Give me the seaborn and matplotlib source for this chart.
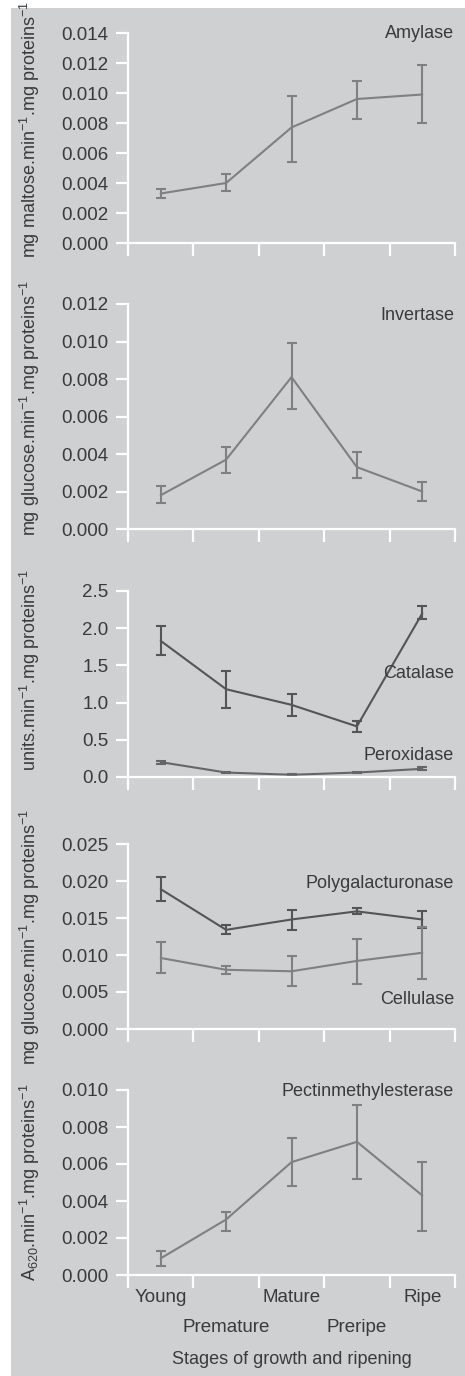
import numpy as np
import matplotlib
matplotlib.use("Agg")
import matplotlib.pyplot as plt
import seaborn as sns
from matplotlib.patches import Rectangle

# stages (points sit between the tick marks)
stages = ["Young", "Premature", "Mature", "Preripe", "Ripe"]
xpos = np.array([0.5, 1.5, 2.5, 3.5, 4.5])

# values: mean, lower bar end, upper bar end
amylase = [0.0033, 0.0040, 0.0077, 0.0096, 0.0099]
amylase_lo = [0.0030, 0.0035, 0.0054, 0.0083, 0.0080]
amylase_hi = [0.0036, 0.0046, 0.0098, 0.0108, 0.0119]

invertase = [0.0018, 0.0037, 0.0081, 0.0033, 0.0020]
invertase_lo = [0.0014, 0.0030, 0.0064, 0.0027, 0.0015]
invertase_hi = [0.0023, 0.0044, 0.0099, 0.0041, 0.0025]

catalase = [1.83, 1.18, 0.97, 0.68, 2.20]
catalase_lo = [1.64, 0.93, 0.82, 0.61, 2.12]
catalase_hi = [2.03, 1.43, 1.12, 0.75, 2.30]

peroxidase = [0.20, 0.06, 0.03, 0.06, 0.11]
peroxidase_lo = [0.18, 0.05, 0.02, 0.05, 0.09]
peroxidase_hi = [0.22, 0.07, 0.04, 0.07, 0.13]

polygal = [0.0189, 0.0134, 0.0148, 0.0159, 0.0148]
polygal_lo = [0.0173, 0.0128, 0.0134, 0.0155, 0.0137]
polygal_hi = [0.0205, 0.0140, 0.0161, 0.0163, 0.0159]

cellulase = [0.0096, 0.0080, 0.0078, 0.0092, 0.0103]
cellulase_lo = [0.0076, 0.0075, 0.0058, 0.0061, 0.0068]
cellulase_hi = [0.0117, 0.0085, 0.0098, 0.0122, 0.0138]

pme = [0.0009, 0.0030, 0.0061, 0.0072, 0.0043]
pme_lo = [0.0005, 0.0024, 0.0048, 0.0052, 0.0024]
pme_hi = [0.0013, 0.0034, 0.0074, 0.0092, 0.0061]

sns.set_theme(style="ticks")
plt.rcParams['font.family'] = ['Liberation Sans', 'DejaVu Sans']
plt.rcParams['mathtext.fontset'] = 'custom'
plt.rcParams['mathtext.rm'] = 'Liberation Sans'
plt.rcParams['mathtext.it'] = 'Liberation Sans:italic'

W, H = 465, 1376
fig = plt.figure(figsize=(W / 100, H / 100), dpi=100)
fig.patch.set_facecolor("white")
fig.patches.append(Rectangle((11 / W, 0), 1 - 11 / W, 1 - 8 / H, transform=fig.transFigure,
                             facecolor="#cfd0d2", edgecolor="none", zorder=-10))

txt_col = "#3a3a3a"
light = "#808080"
dark = "#555555"

def fy(py):
    return 1 - py / H

def make_ax(y_zero, y_top, ymax, step, fmt, ylabel, label_y=0.5):
    ax = fig.add_axes([128 / W, fy(y_zero), (455 - 128) / W, (y_zero - y_top) / H])
    ax.set_facecolor("none")
    ax.set_xlim(0, 5)
    ax.set_ylim(0, ymax)
    ax.set_xticks(range(6))
    ax.set_xticklabels([])
    yt = np.arange(0, ymax + step / 2, step)
    ax.set_yticks(yt)
    ax.set_yticklabels([fmt.format(v) for v in yt])
    for s in ["top", "right"]:
        ax.spines[s].set_visible(False)
    for s in ["left", "bottom"]:
        ax.spines[s].set_color("white")
        ax.spines[s].set_linewidth(1.6)
    ax.tick_params(colors="white", labelcolor=txt_col, length=9, width=1.6, labelsize=13.5, pad=5)
    ax.set_ylabel(ylabel, fontsize=13, color=txt_col)
    ax.yaxis.set_label_coords(-0.263, label_y)
    ax.grid(False)
    return ax

def series(ax, vals, lo, hi, color):
    vals = np.array(vals)
    sns.lineplot(x=xpos, y=vals, ax=ax, color=color, linewidth=1.5, clip_on=False)
    err = [vals - np.array(lo), np.array(hi) - vals]
    ax.errorbar(xpos, vals, yerr=err, fmt="none", ecolor=color, elinewidth=1.5,
                capsize=3.5, capthick=1.5, clip_on=False)

def label(ax, text, py):
    fig.text(454 / W, fy(py), text, ha="right", va="center", fontsize=13, color=txt_col)

ax1 = make_ax(243, 33, 0.014, 0.002, "{:.3f}", r"mg maltose.min$^{-1}$.mg proteins$^{-1}$", 0.54)
series(ax1, amylase, amylase_lo, amylase_hi, light)
label(ax1, "Amylase", 33)

ax2 = make_ax(529, 304, 0.012, 0.002, "{:.3f}", r"mg glucose.min$^{-1}$.mg proteins$^{-1}$", 0.54)
series(ax2, invertase, invertase_lo, invertase_hi, light)
label(ax2, "Invertase", 315)

ax3 = make_ax(777, 591, 2.5, 0.5, "{:.1f}", r"units.min$^{-1}$.mg proteins$^{-1}$", 0.575)
series(ax3, catalase, catalase_lo, catalase_hi, dark)
series(ax3, peroxidase, peroxidase_lo, peroxidase_hi, "#666666")
label(ax3, "Catalase", 673)
label(ax3, "Peroxidase", 756)

ax4 = make_ax(1029, 844, 0.025, 0.005, "{:.3f}", r"mg glucose.min$^{-1}$.mg proteins$^{-1}$")
series(ax4, polygal, polygal_lo, polygal_hi, dark)
series(ax4, cellulase, cellulase_lo, cellulase_hi, light)
label(ax4, "Polygalacturonase", 884)
label(ax4, "Cellulase", 999)

ax5 = make_ax(1275, 1090, 0.010, 0.002, "{:.3f}", r"A$_{620}$.min$^{-1}$.mg proteins$^{-1}$")
series(ax5, pme, pme_lo, pme_hi, light)
label(ax5, "Pectinmethylesterase", 1091)

# stage names staggered in two rows under the last panel
for i, (x, name) in enumerate(zip(xpos, stages)):
    px = 128 + x / 5 * (455 - 128)
    py = 1298 if i % 2 == 0 else 1328
    fig.text(px / W, fy(py), name, ha="center", va="center", fontsize=13.5, color=txt_col)
fig.text((128 + 455) / 2 / W, fy(1360), "Stages of growth and ripening",
         ha="center", va="center", fontsize=13, color=txt_col)

fig.savefig("out.png", dpi=100)
